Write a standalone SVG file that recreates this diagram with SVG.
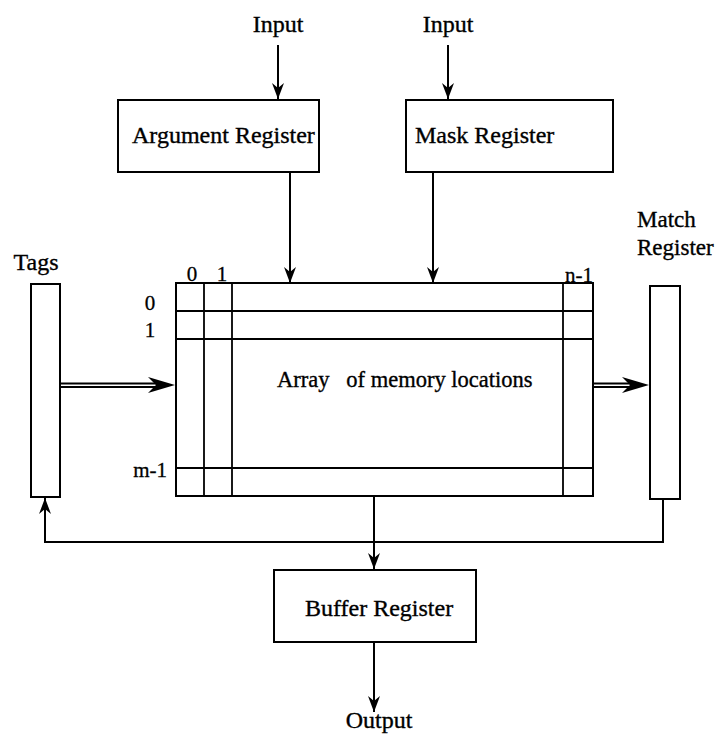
<svg xmlns="http://www.w3.org/2000/svg" width="717" height="737" viewBox="0 0 717 737">
<style>
.box{fill:#fff;stroke:#000;stroke-width:2}
.ln{fill:none;stroke:#000;stroke-width:2}
.gl{fill:none;stroke:#000;stroke-width:1.8}
.t{font-family:"Liberation Serif","Times New Roman",serif;font-size:24px;fill:#000;stroke:#000;stroke-width:0.35}
.m{font-size:23px}
.a{font-size:22.5px}
.s{font-family:"Liberation Serif","Times New Roman",serif;font-size:21px;fill:#000;stroke:#000;stroke-width:0.3}
</style>
<defs>
<marker id="ah" viewBox="-17 -7 18 14" refX="0" refY="0" markerWidth="18" markerHeight="14" markerUnits="userSpaceOnUse" orient="auto">
<path d="M-16,-6 L0,0 L-16,6 L-11,0 Z" fill="#000"/>
</marker>
</defs>
<rect width="717" height="737" fill="#fff"/>

<g id="input1"><text class="t" x="278" y="32" text-anchor="middle">Input</text></g>
<g id="input2"><text class="t" x="448" y="32" text-anchor="middle">Input</text></g>

<g id="argument-register">
<rect class="box" x="118" y="100" width="201" height="72"/>
<text class="t" x="132" y="143">Argument Register</text>
</g>
<g id="mask-register">
<rect class="box" x="406" y="100" width="207" height="72"/>
<text class="t" x="415" y="143">Mask Register</text>
</g>

<g id="tags">
<text class="t" x="36" y="270" text-anchor="middle">Tags</text>
<rect class="box" x="31" y="284" width="29" height="213"/>
</g>

<g id="match-register">
<text class="t m" x="637" y="227">Match</text>
<text class="t m" x="637" y="255">Register</text>
<rect class="box" x="650" y="286" width="30" height="213"/>
</g>

<g id="array">
<rect class="box" x="176" y="283" width="417" height="213"/>
<line class="gl" x1="204" y1="283" x2="204" y2="496"/>
<line class="gl" x1="232" y1="283" x2="232" y2="496"/>
<line class="gl" x1="563" y1="283" x2="563" y2="496"/>
<line class="gl" x1="176" y1="311" x2="593" y2="311"/>
<line class="gl" x1="176" y1="339" x2="593" y2="339"/>
<line class="gl" x1="176" y1="468" x2="593" y2="468"/>
<text class="s" x="192" y="281" text-anchor="middle">0</text>
<text class="s" x="222" y="281" text-anchor="middle">1</text>
<text class="s" x="579" y="282" text-anchor="middle">n-1</text>
<text class="s" x="150" y="310" text-anchor="middle">0</text>
<text class="s" x="150" y="337" text-anchor="middle">1</text>
<text class="s" x="167" y="477" text-anchor="end">m-1</text>
<text class="t a" x="277" y="387" xml:space="preserve">Array   of memory locations</text>
</g>

<g id="buffer-register">
<rect class="box" x="274" y="570" width="202" height="72"/>
<text class="t" x="305" y="616">Buffer Register</text>
</g>

<g id="output"><text class="t" x="379" y="728" text-anchor="middle">Output</text></g>

<g id="connectors">
<line class="ln" x1="278" y1="45" x2="278" y2="99" marker-end="url(#ah)"/>
<line class="ln" x1="448" y1="45" x2="448" y2="99" marker-end="url(#ah)"/>
<line class="ln" x1="290" y1="172" x2="290" y2="283" marker-end="url(#ah)"/>
<line class="ln" x1="433" y1="172" x2="433" y2="283" marker-end="url(#ah)"/>
<line class="ln" x1="61" y1="383.5" x2="158" y2="383.5"/>
<line class="ln" x1="61" y1="387" x2="158" y2="387"/>
<path d="M175,385 L148,377 L156,385 L148,393 Z" fill="#000"/>
<line class="ln" x1="593" y1="383.5" x2="632" y2="383.5"/>
<line class="ln" x1="593" y1="387" x2="632" y2="387"/>
<path d="M649,385 L622,377 L630,385 L622,393 Z" fill="#000"/>
<polyline class="ln" points="663,499 663,542 45,542 45,498" marker-end="url(#ah)"/>
<line class="ln" x1="374" y1="496" x2="374" y2="569" marker-end="url(#ah)"/>
<line class="ln" x1="374" y1="642" x2="374" y2="712" marker-end="url(#ah)"/>
</g>
</svg>
